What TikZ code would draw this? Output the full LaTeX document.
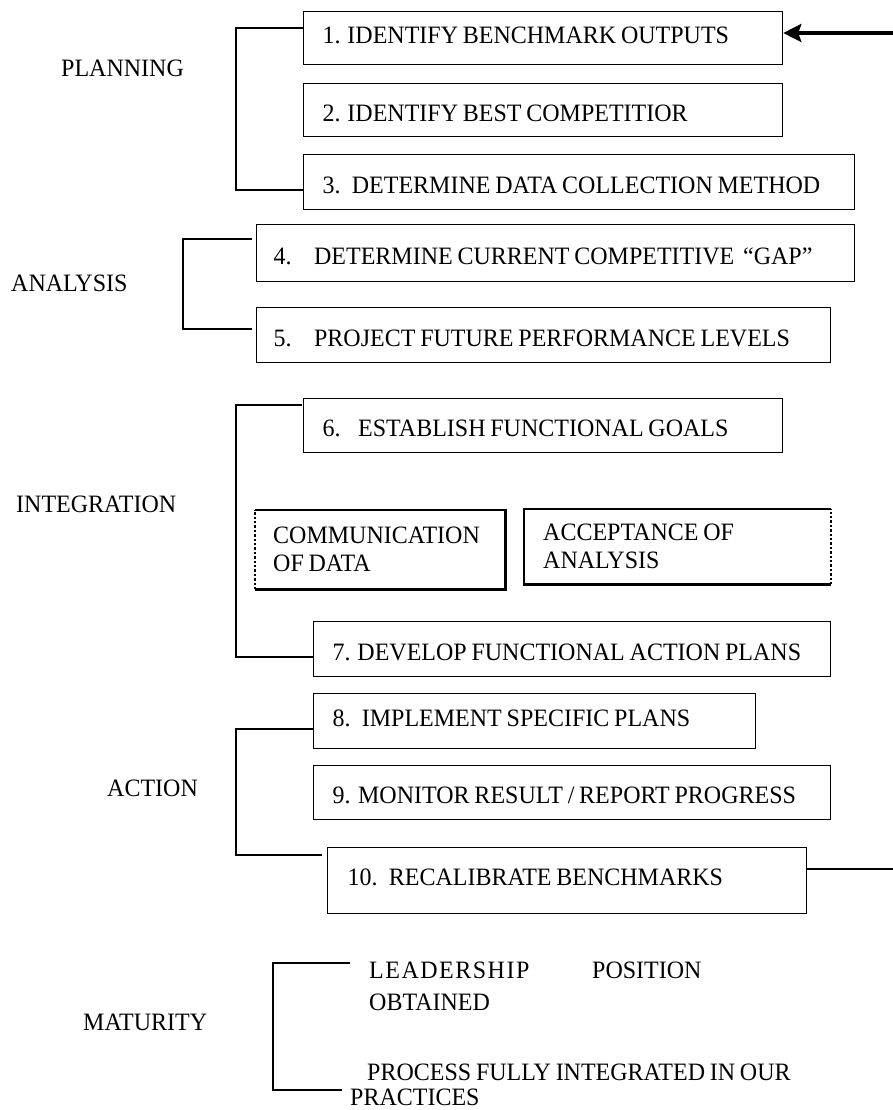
\documentclass[tikz,border=0pt]{standalone}
\usepackage{fontspec}
\setmainfont{Liberation Serif}[FakeStretch=0.96, WordSpace=0.8]
\usetikzlibrary{arrows.meta}
\newcommand\diagfont{\fontsize{25}{28}\selectfont}
\tikzset{
  stepbox/.style={draw, line width=1.3pt, anchor=north west, inner xsep=0pt, inner ysep=0pt,
    align=flush left, font=\diagfont, text height=22.5pt, text depth=0pt},
  highbox/.style={text height=16.5pt, text depth=6pt},
  flowbox/.style={anchor=north west, inner xsep=0pt, inner ysep=0pt, align=flush left, font=\diagfont},
  flowedge/.style={line width=2.4pt},
  lbl/.style={anchor=west, inner sep=0pt, font=\diagfont},
  brk/.style={line width=1.3pt},
}
\begin{document}
\begin{tikzpicture}[x=1pt,y=-1pt]
\useasboundingbox (0,0) rectangle (893,1110);

% phase labels
\node[lbl] (lplan) at (61,68) {PLANNING};
\node[lbl] (lana) at (11,283) {ANALYSIS};
\node[lbl] (lint) at (16,504) {INTEGRATION};
\node[lbl] (lact) at (107,788) {ACTION};
\node[lbl] (lmat) at (83,1022) {MATURITY};

% step boxes
\node[stepbox, highbox, minimum width=479pt, minimum height=53pt, text width=441pt] (b1) at (303,11) {1. IDENTIFY BENCHMARK OUTPUTS};
\node[stepbox, minimum width=479pt, minimum height=53pt, text width=441pt] (b2) at (303,83) {2. IDENTIFY BEST COMPETITIOR};
\node[stepbox, minimum width=551pt, minimum height=55pt, text width=513pt] (b3) at (303,154) {3.\hspace{0.45em}DETERMINE DATA COLLECTION METHOD};
\node[stepbox, minimum width=598pt, minimum height=57pt, text width=564pt] (b4) at (256,224) {4.\hspace{0.9em}DETERMINE CURRENT COMPETITIVE\hspace{0.35em}“GAP”};
\node[stepbox, minimum width=574pt, minimum height=55pt, text width=540pt] (b5) at (256,307) {5.\hspace{0.9em}PROJECT FUTURE PERFORMANCE LEVELS};
\node[stepbox, minimum width=479pt, minimum height=54pt, text width=441pt] (b6) at (303,398) {6.\hspace{0.7em}ESTABLISH FUNCTIONAL GOALS};
\node[stepbox, minimum width=517pt, minimum height=55pt, text width=479pt] (b7) at (313,621) {7. DEVELOP FUNCTIONAL ACTION PLANS};
\node[stepbox, highbox, minimum width=442pt, minimum height=55pt, text width=404pt] (b8) at (313,693) {8.\hspace{0.45em}IMPLEMENT SPECIFIC PLANS};
\node[stepbox, minimum width=517pt, minimum height=54pt, text width=479pt] (b9) at (313,765) {9.\hspace{0.3em}MONITOR RESULT / REPORT PROGRESS};
\node[stepbox, highbox, minimum width=479pt, minimum height=66pt, text width=439pt] (b10) at (327,847) {10.\hspace{0.45em}RECALIBRATE BENCHMARKS};

% integration flow boxes
\node[flowbox, minimum width=250pt, minimum height=79pt, text width=214pt] (comm) at (255,510) {COMMUNICATION\\OF DATA};
\draw[flowedge] (comm.north west) -- (comm.north east) -- (comm.south east) -- (comm.south west);
\draw[flowedge, dotted, line width=2pt] (comm.south west) -- (comm.north west);
\node[flowbox, minimum width=307pt, minimum height=75pt, text width=269pt] (acc) at (524,509) {ACCEPTANCE OF\\ANALYSIS};
\draw[flowedge] (acc.north east) -- (acc.north west) -- (acc.south west) -- (acc.south east);
\draw[flowedge, dotted, line width=2pt] (acc.south east) -- (acc.north east);

% maturity texts
\node[lbl, align=flush left, font=\fontsize{25}{32}\selectfont] (lead) at (369,986) {\makebox[223pt][l]{\addfontfeature{LetterSpace=6}LEADERSHIP}POSITION\\OBTAINED};
\node[lbl, align=flush left, font=\fontsize{25}{25}\selectfont] (proc) at (350,1085) {\hspace*{17pt}PROCESS FULLY INTEGRATED IN OUR\\PRACTICES};

% brackets
\draw[brk] ([yshift=-17pt]b1.north west) -- ++(-67,0) |- ([yshift=-36pt]b3.north west);
\draw[brk] ([xshift=-4pt,yshift=-15pt]b4.north west) -- ++(-69,0) |- ([xshift=-4pt,yshift=-22pt]b5.north west);
\draw[brk] ([xshift=-1pt,yshift=-7pt]b6.north west) -- ++(-66,0) |- ([yshift=-36pt]b7.north west);
\draw[brk] ([yshift=-36pt]b8.north west) -- ++(-77,0) |- ([xshift=-5pt,yshift=-8pt]b10.north west);
\coordinate (mtop) at (350,963);
\coordinate (mbot) at (342,1090);
\draw[brk] (mtop) -- (273,963) |- (mbot);

% feedback loop
\coordinate (fbbot) at (900,869);
\coordinate (fbtop) at (900,33);
\draw[line width=1.5pt] ([yshift=-22pt]b10.north east) -- (fbbot);
\draw[line width=3.2pt, -{Stealth[length=18pt,width=18pt,inset=3pt]}] (fbtop) -- (b1.east |- fbtop);
\end{tikzpicture}
\end{document}
